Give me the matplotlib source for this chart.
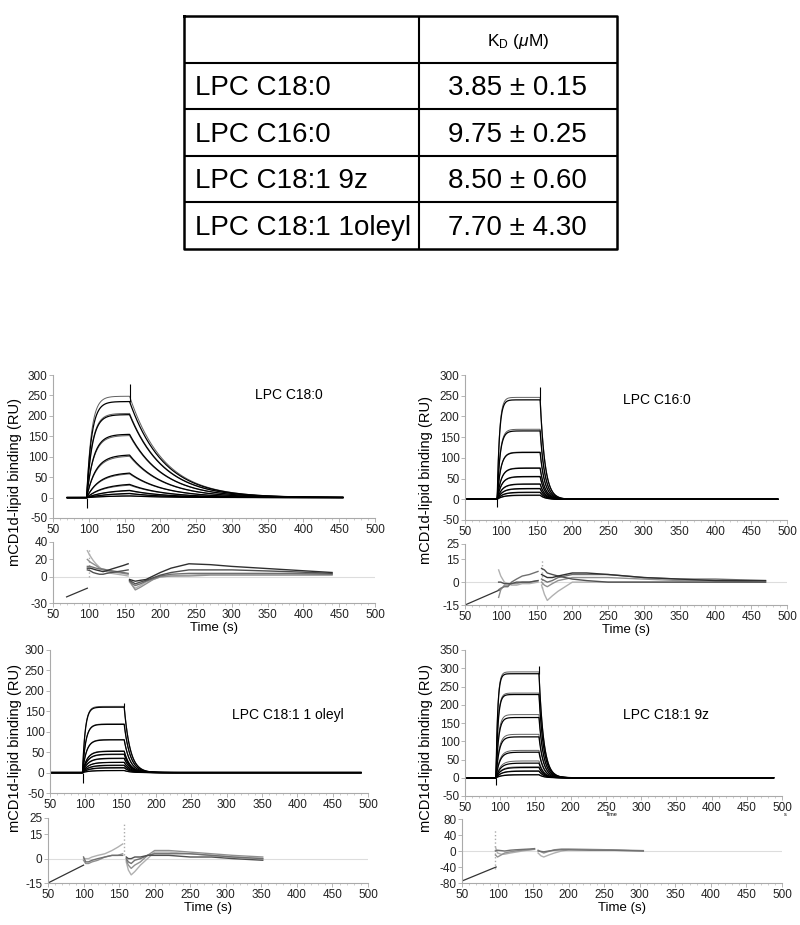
import numpy as np
import matplotlib.pyplot as plt
from matplotlib.ticker import MultipleLocator

plt.rcParams['font.family'] = ['Liberation Sans', 'DejaVu Sans']
plt.rcParams['mathtext.fontset'] = 'custom'
plt.rcParams['mathtext.rm'] = 'Liberation Sans'
plt.rcParams['mathtext.it'] = 'Liberation Sans:italic'
plt.rcParams['axes.unicode_minus'] = False

# ---- table values
lipids = ['LPC C18:0', 'LPC C16:0', 'LPC C18:1 9z', 'LPC C18:1 1oleyl']
kd_mean = [3.85, 9.75, 8.50, 7.70]
kd_err = [0.15, 0.25, 0.60, 4.30]

# ---- sensorgrams (levels at end of injection, RU; rates)
# times = [injection start, injection end, end of trace], base = start of baseline
c180_label = 'LPC C18:0'
c180_fit = [235, 203, 155, 105, 62, 35, 20, 12, 5]
c180_data = [248, 206, 152, 102, 60, 33, 19, 11, 5]
c180_times = [97, 157, 455]
c180_base = 70
c180_kd = 0.021
c180_kon = [0.025, 0.0005]
c180_spike = [-25, 278]

c160_label = 'LPC C16:0'
c160_fit = [240, 165, 113, 75, 55, 37, 26, 17, 10]
c160_data = [246, 169, 114, 76, 54, 36, 25, 16, 9]
c160_times = [95, 155, 487]
c160_base = 50
c160_kd = 0.15
c160_kon = [0.12, 0.0008]
c160_spike = [-18, 270]

ole_label = 'LPC C18:1 1 oleyl'
ole_fit = [160, 118, 80, 52, 45, 35, 25, 18, 12, 5]
ole_data = [162, 119, 81, 53, 44, 34, 25, 17, 11, 5]
ole_times = [96, 155, 490]
ole_base = 50
ole_kd = 0.12
ole_kon = [0.1, 0.001]
ole_spike = [-25, 170]

c9z_label = 'LPC C18:1 9z'
c9z_fit = [285, 228, 165, 112, 70, 40, 28, 18, 8]
c9z_data = [290, 232, 173, 119, 75, 46, 30, 19, 9]
c9z_times = [94, 155, 488]
c9z_base = 50
c9z_kd = 0.15
c9z_kon = [0.12, 0.001]
c9z_spike = [-20, 305]

# ---- residuals (RU)
c180_res_lead = [[69, 98], [-23, -13]]
c180_res_at = [98, 102, 106, 110, 115, 120, 125, 132, 140, 148, 155]
c180_res_a = [[30, 24, 19, 15, 11, 8, 6, 4, 3, 2, 1],
              [20, 17, 15, 13, 10, 8, 7, 6, 5, 4, 3],
              [12, 12, 11, 10, 9, 9, 8, 7, 6, 5, 4],
              [8, 7, 5, 4, 3, 3, 4, 5, 6, 7, 8],
              [10, 10, 9, 8, 7, 6, 7, 9, 11, 13, 15]]
c180_res_dt = [157, 161, 165, 172, 180, 190, 200, 215, 240, 270, 300, 340, 380, 440]
c180_res_d = [[-6, -10, -13, -10, -6, -3, 0, 1, 2, 3, 3, 3, 3, 3],
              [-4, -10, -15, -12, -8, -3, 0, 1, 1, 2, 2, 2, 2, 2],
              [-5, -8, -10, -8, -5, -2, 1, 3, 4, 4, 4, 4, 4, 3],
              [-4, -6, -8, -6, -4, -1, 2, 5, 8, 8, 8, 7, 6, 4],
              [-3, -4, -5, -4, -3, 1, 5, 10, 15, 14, 12, 10, 8, 5]]
c180_res_spike = [100, 0, 33]
c180_res_ylim = [-30, 40]
c180_res_ticks = [-30, 0, 20, 40]

c160_res_lead = [[50, 99], [-15, -5]]
c160_res_at = [97, 100, 105, 110, 115, 122, 130, 140, 152]
c160_res_a = [[8, 4, 0, -1, -2, -2, -1, -1, 0],
              [-10, -5, -2, -2, -1, -1, 0, 0, 1],
              [-5, -4, -3, -3, 0, 2, 4, 5, 7],
              [0, 0, -1, -1, -1, 0, 0, 0, 1]]
c160_res_dt = [157, 161, 165, 172, 180, 190, 200, 220, 250, 300, 350, 400, 470]
c160_res_d = [[-2, -8, -12, -9, -6, -3, 0, 0, 0, 0, 0, 0, 0],
              [0, -2, -3, -1, 1, 2, 3, 3, 3, 2, 1, 1, 0],
              [2, 1, 0, 1, 3, 4, 5, 5, 5, 3, 2, 2, 1],
              [9, 8, 6, 5, 4, 3, 2, 1, 0, 0, 0, 0, 0],
              [5, 4, 3, 3, 4, 5, 6, 6, 5, 3, 2, 1, 1]]
c160_res_spike = [157, -4, 15]
c160_res_ylim = [-15, 25]
c160_res_ticks = [-15, 0, 15, 25]

ole_res_lead = [[50, 100], [-15, -4]]
ole_res_at = [100, 103, 107, 112, 120, 130, 140, 148, 155]
ole_res_a = [[0, 0, 0, 1, 2, 3, 5, 7, 9],
             [-1, -3, -3, -2, -1, 1, 2, 2, 3],
             [1, -2, -2, -1, 0, 1, 2, 2, 2]]
ole_res_dt = [160, 163, 167, 172, 180, 190, 200, 220, 250, 280, 310, 352]
ole_res_d = [[-2, -7, -10, -8, -4, 0, 4, 4, 3, 2, 1, 0],
             [-1, -4, -6, -4, -2, 2, 5, 5, 4, 3, 2, 1],
             [0, -2, -3, -1, 0, 2, 3, 3, 3, 2, 1, 0],
             [1, 0, 0, 1, 1, 2, 2, 2, 1, 1, 0, -1]]
ole_res_spike = [157, 2, 22]
ole_res_ylim = [-15, 25]
ole_res_ticks = [-15, 0, 15, 25]

c9z_res_lead = [[50, 98], [-75, -40]]
c9z_res_at = [97, 100, 105, 110, 118, 125, 135, 145, 152]
c9z_res_a = [[10, -5, -8, -8, -5, -3, 0, 3, 5],
             [-10, -15, -10, -5, -2, 0, 2, 3, 4],
             [0, 2, 1, 0, 2, 3, 4, 5, 6]]
c9z_res_dt = [157, 161, 165, 172, 180, 190, 200, 230, 260, 305]
c9z_res_d = [[-5, -12, -15, -10, -5, 0, 3, 3, 2, 0],
             [2, -2, -5, -1, 3, 5, 5, 4, 3, 1],
             [0, -1, -2, 0, 2, 3, 3, 2, 2, 0]]
c9z_res_spike = [97, -45, 55]
c9z_res_ylim = [-80, 80]
c9z_res_ticks = [-80, -40, 0, 40, 80]

greys = ['#b0b0b0', '#909090', '#707070', '#505050', '#303030']


def style(ax, ylim, yticks):
    for s in ['top', 'right']:
        ax.spines[s].set_visible(False)
    for s in ['left', 'bottom']:
        ax.spines[s].set_color('#aaaaaa')
        ax.spines[s].set_linewidth(0.8)
    ax.set_xlim(50, 500)
    ax.set_xticks(range(50, 501, 50))
    ax.xaxis.set_minor_locator(MultipleLocator(10))
    ax.set_ylim(*ylim)
    ax.set_yticks(yticks)
    ax.tick_params(labelsize=8.5, length=3, width=0.6, color='#aaaaaa',
                   labelcolor='#222222', pad=1)
    ax.tick_params(which='minor', length=1.5, width=0.5, color='#bbbbbb')


def sensorgram(ax, fit, data, times, base, kd, kon, spike):
    ts, te, tend = times
    for levels, col, lw in [(data, '#606060', 0.7), (fit, 'black', 0.9)]:
        for R in levels:
            kobs = kon[0] + kon[1] * R
            ta = np.linspace(ts, te, 80)
            ra = R * (1 - np.exp(-kobs * (ta - ts)))
            td = np.linspace(te, tend, 250)
            rd = ra[-1] * np.exp(-kd * (td - te))
            t = np.concatenate([[base, ts], ta, td])
            r = np.concatenate([[0, 0], ra, rd])
            ax.plot(t, r, color=col, lw=lw)
    ax.vlines(ts, spike[0], 0, color='black', lw=0.8)
    ax.vlines(te, fit[0], spike[1], color='black', lw=0.8)


def residuals(ax, lead, at, a, dt, d, spike):
    ax.axhline(0, color='#dddddd', lw=0.8, zorder=0)
    ax.plot(lead[0], lead[1], color='#333333', lw=0.9)
    ax.vlines(spike[0], spike[1], spike[2], color='#aaaaaa', lw=1.0, linestyles=':')
    for i, v in enumerate(a):
        ax.plot(at, v, color=greys[i % len(greys)], lw=1.0)
    for i, v in enumerate(d):
        ax.plot(dt, v, color=greys[i % len(greys)], lw=1.0)


W, H = 800, 925
fig = plt.figure(figsize=(W / 100, H / 100), dpi=100)

# ---- table
tax = fig.add_axes([184 / W, 1 - 249 / H, 433 / W, 233 / H])
tax.set_xlim(0, 1)
tax.set_ylim(5, 0)
tax.axis('off')
tax.plot([0, 1, 1, 0, 0], [0, 0, 5, 5, 0], color='black', lw=1.8, clip_on=False)
for r in range(1, 5):
    tax.plot([0, 1], [r, r], color='black', lw=1.5)
tax.plot([0.543, 0.543], [0, 5], color='black', lw=1.5)
tax.text(0.771, 0.55, r'K$_{\mathrm{D}}$ ($\mathit{\mu}$M)', fontsize=12.5,
         ha='center', va='center')
for i, name in enumerate(lipids):
    tax.text(0.025, i + 1.55, name, fontsize=20, ha='left', va='center')
    tax.text(0.771, i + 1.55, '%.2f \u00b1 %.2f' % (kd_mean[i], kd_err[i]),
             fontsize=20, ha='center', va='center')

# ---- panels
panels = [
    dict(main=[53, 375, 375, 518], res=[53, 375, 542, 603], ylim=[-50, 300], yt=range(-50, 301, 50),
         label=c180_label, lpos=[332, 251], fit=c180_fit, data=c180_data, times=c180_times,
         base=c180_base, kd=c180_kd, kon=c180_kon, spike=c180_spike,
         rl=c180_res_lead, rat=c180_res_at, ra=c180_res_a, rdt=c180_res_dt, rd=c180_res_d,
         rs=c180_res_spike, rylim=c180_res_ylim, ryt=c180_res_ticks, ylab=[15, 482]),
    dict(main=[465, 787, 375, 520], res=[465, 787, 544, 605], ylim=[-50, 300], yt=range(-50, 301, 50),
         label=c160_label, lpos=[271, 240], fit=c160_fit, data=c160_data, times=c160_times,
         base=c160_base, kd=c160_kd, kon=c160_kon, spike=c160_spike,
         rl=c160_res_lead, rat=c160_res_at, ra=c160_res_a, rdt=c160_res_dt, rd=c160_res_d,
         rs=c160_res_spike, rylim=c160_res_ylim, ryt=c160_res_ticks, ylab=[426, 480]),
    dict(main=[50, 368, 650, 793], res=[48, 368, 818, 883], ylim=[-50, 300], yt=range(-50, 301, 50),
         label=ole_label, lpos=[307, 141], fit=ole_fit, data=ole_data, times=ole_times,
         base=ole_base, kd=ole_kd, kon=ole_kon, spike=ole_spike,
         rl=ole_res_lead, rat=ole_res_at, ra=ole_res_a, rdt=ole_res_dt, rd=ole_res_d,
         rs=ole_res_spike, rylim=ole_res_ylim, ryt=ole_res_ticks, ylab=[15, 748]),
    dict(main=[465, 782, 650, 796], res=[462, 782, 819, 883], ylim=[-50, 350], yt=range(-50, 351, 50),
         label=c9z_label, lpos=[274, 172], fit=c9z_fit, data=c9z_data, times=c9z_times,
         base=c9z_base, kd=c9z_kd, kon=c9z_kon, spike=c9z_spike,
         rl=c9z_res_lead, rat=c9z_res_at, ra=c9z_res_a, rdt=c9z_res_dt, rd=c9z_res_d,
         rs=c9z_res_spike, rylim=c9z_res_ylim, ryt=c9z_res_ticks, ylab=[426, 748]),
]

for k, p in enumerate(panels):
    x0, x1, y0, y1 = p['main']
    ax = fig.add_axes([x0 / W, 1 - y1 / H, (x1 - x0) / W, (y1 - y0) / H])
    style(ax, p['ylim'], p['yt'])
    sensorgram(ax, p['fit'], p['data'], p['times'], p['base'], p['kd'], p['kon'], p['spike'])
    ax.text(p['lpos'][0], p['lpos'][1], p['label'], fontsize=10, ha='left', va='center')
    if k == 3:
        ax.text(0.464, -0.11, 'Time', fontsize=4, ha='center', va='top', transform=ax.transAxes)
        ax.text(1.01, -0.11, 's', fontsize=4, ha='center', va='top', transform=ax.transAxes)

    x0, x1, y0, y1 = p['res']
    rax = fig.add_axes([x0 / W, 1 - y1 / H, (x1 - x0) / W, (y1 - y0) / H])
    style(rax, p['rylim'], p['ryt'])
    residuals(rax, p['rl'], p['rat'], p['ra'], p['rdt'], p['rd'], p['rs'])
    rax.set_xlabel('Time (s)', fontsize=9.5, labelpad=1)

    fig.text(p['ylab'][0] / W, 1 - p['ylab'][1] / H, 'mCD1d-lipid binding (RU)',
             rotation=90, fontsize=10.5, ha='center', va='center')

fig.savefig('out.png', dpi=100)
